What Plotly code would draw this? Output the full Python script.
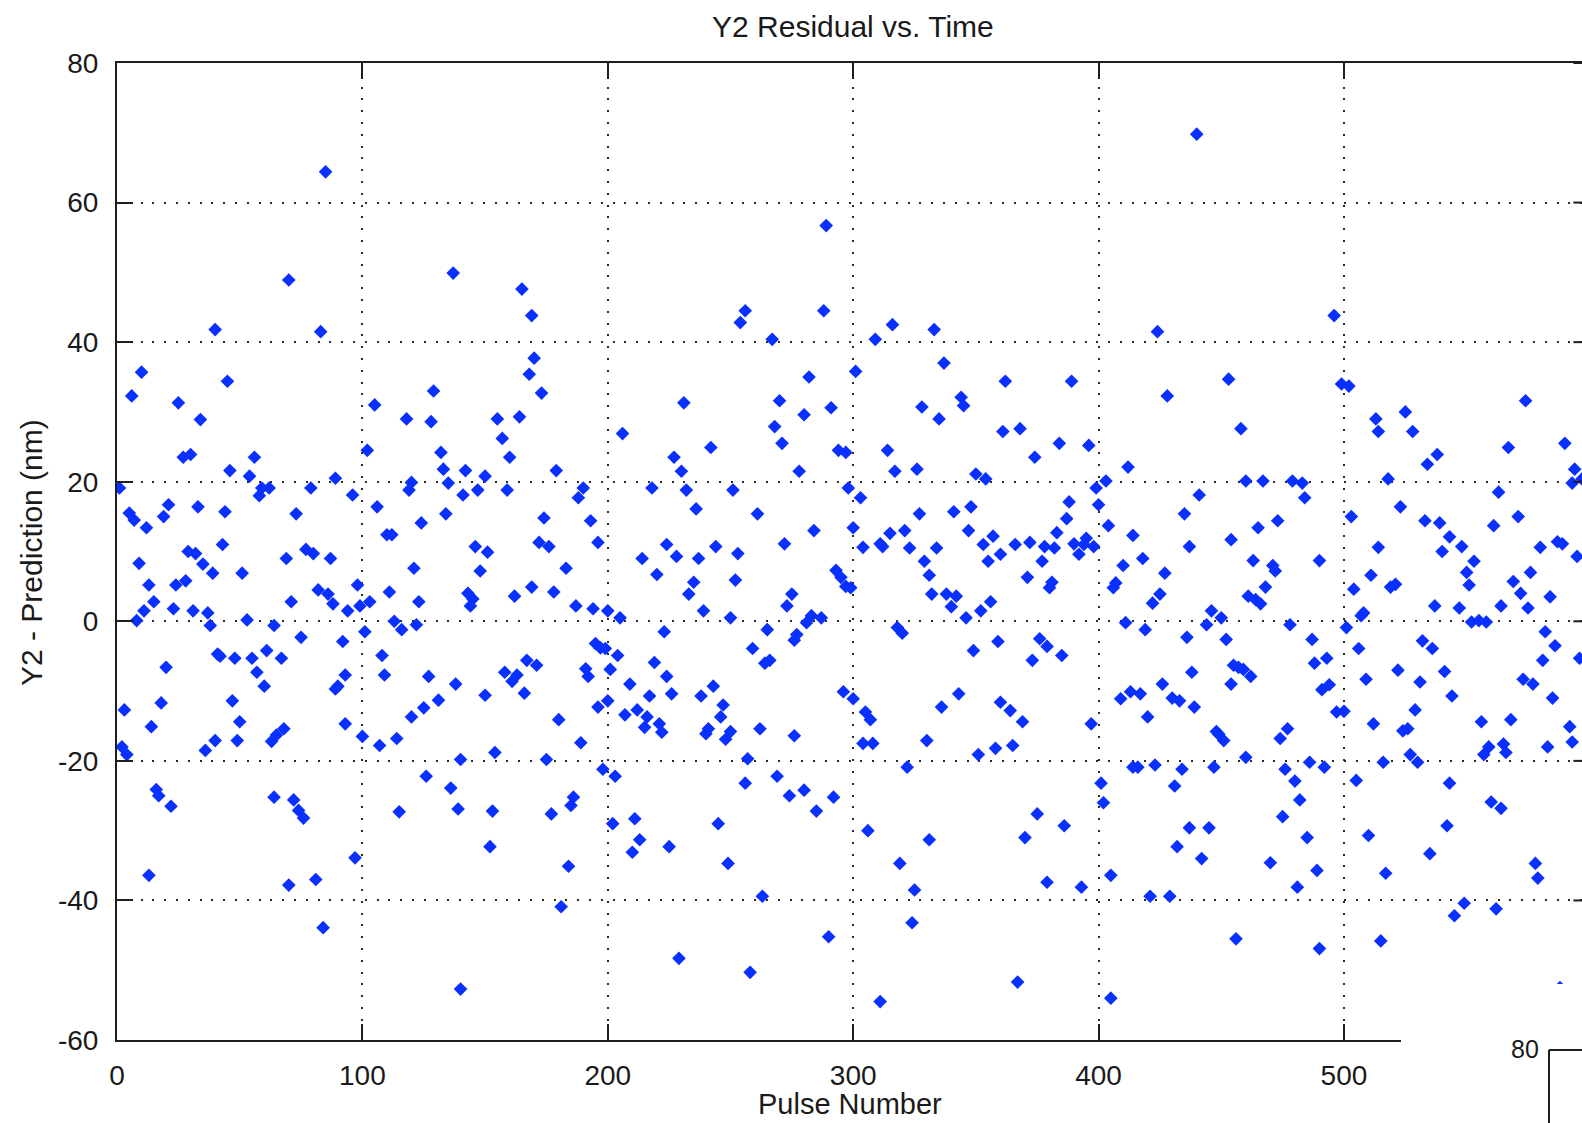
import plotly.graph_objects as go

# ---------------- data ----------------
pulse = [
    85, 70, 40, 83, 10, 6, 45, 25, 34, 27, 30, 56, 46, 54, 89, 1, 59, 62, 58, 79,
    96, 21, 5, 7, 19, 33, 44, 12, 73, 43, 29, 32, 9, 35, 39, 51, 69, 77, 80, 87,
    13, 24, 28, 15, 11, 23, 31, 37, 8, 38, 53, 64, 71, 82, 86, 88, 94, 98, 99, 75,
    92, 20, 41, 42, 48, 55, 61, 67, 57, 60, 93, 90, 89, 3, 18, 47, 14, 50, 68, 65,
    63, 93, 2, 4, 36, 40, 49, 100, 16, 17, 22, 64, 72, 74, 76, 97, 13, 70, 81, 84,
    137, 165, 169, 170, 168, 173, 129, 105, 118, 128, 155, 164, 157, 160, 102, 132, 133, 142, 150, 179,
    120, 119, 135, 141, 147, 159, 190, 188, 106, 124, 134, 174, 193, 110, 112, 146, 172, 176, 196,
    151, 121, 148, 183, 111, 103, 123, 143, 145, 144, 162, 169, 178, 187, 194, 113, 116, 122, 101, 108,
    109, 127, 138, 120, 125, 131, 150, 158, 163, 161, 167, 171, 166, 180, 189, 191, 192, 195, 197, 196,
    107, 114, 140, 154, 175, 198, 126, 136, 115, 139, 153, 177, 186, 185, 152, 184, 181, 140,
    289, 256, 254, 288, 267, 282, 231, 270, 291, 280, 268, 271, 206, 242, 227, 230, 294, 297, 278, 218,
    232, 251, 298, 236, 261, 284, 224, 244, 272,
    214, 228, 237, 253, 220, 235, 233, 252, 275, 273, 293, 295, 297, 200, 205, 239, 250, 223, 265, 283,
    281, 287, 277, 276, 259, 266, 264, 199, 204, 201, 219, 224, 209, 243, 217, 226, 238, 200, 207, 212,
    216, 215, 221, 222, 247, 246, 241, 240, 250, 248, 262, 276, 296, 257, 203, 256, 269, 274, 280, 292,
    285, 202, 211, 213, 210, 225, 245, 249, 263, 290, 229, 258,
    316, 309, 333, 301, 337, 362, 389, 328, 344, 345, 335, 361, 368, 384, 396, 314, 374, 317, 326, 350,
    354, 303, 327, 341, 348, 388, 387, 300, 315, 321, 347, 357, 383, 304, 311, 312, 323, 334, 353, 366,
    372, 378, 382, 390, 395, 394,
    392, 329, 331, 332, 338, 342, 340, 346, 352, 356, 355, 360, 371, 377, 380, 381, 299, 318, 320, 349,
    359, 376, 379, 385, 373, 300, 305, 307, 304, 308, 336, 343, 360, 364, 369, 397, 330, 351, 358, 365,
    322, 375, 386, 306, 331, 370, 319, 325, 379, 393, 324, 367, 311,
    440, 496, 424, 453, 428, 458, 412, 399, 403, 400, 404, 414, 441, 435, 460, 467, 479, 483, 484, 465,
    473, 454, 437, 398,
    418, 410, 427, 407, 406, 425, 422, 463, 471, 472, 468, 461, 464, 466, 490, 446, 450, 411, 419, 436,
    444, 452, 478, 487, 488, 493, 438, 455, 457, 459, 462, 454, 426, 409, 413, 417, 430, 433, 439, 420,
    491, 494, 497, 448, 449, 451, 474, 477, 460, 414, 416, 423, 434, 447, 476, 486, 492, 401, 402, 431,
    480, 482, 475, 437, 445, 432, 485, 442, 470, 489, 405, 481, 421, 429, 456, 490, 405,
    499, 502, 513, 514, 525, 528, 574, 534, 538, 567, 590, 594, 593, 597, 518, 563, 503, 523, 533, 539,
    543, 561, 571, 514, 548, 580, 587, 589,
    540, 553, 550, 551, 595, 511, 504, 519, 521, 537, 547, 564, 569, 572, 576, 575, 584, 508, 507, 501,
    552, 555, 558, 582, 586, 596, 532, 536, 506, 522, 541, 509, 531, 544, 573, 577, 581, 585, 500, 512,
    529, 524, 526, 556, 568, 592, 593, 583, 559, 557, 565, 566, 527, 530, 516, 505, 543, 560, 564, 510,
    542, 535, 517, 578, 579, 549, 545, 562, 515, 588,
]

resid = [
    64.4, 48.9, 41.8, 41.5, 35.7, 32.3, 34.4, 31.3, 28.9, 23.5, 23.9, 23.5, 21.6, 20.8, 20.5, 19.1, 19.1, 19.1, 18.0, 19.1,
    18.1, 16.7, 15.5, 14.5, 15.0, 16.4, 15.7, 13.4, 15.4, 11.0, 10.0, 9.7, 8.3, 8.2, 6.9, 6.9, 9.0, 10.3, 9.7, 9.0,
    5.2, 5.2, 5.8, 2.8, 1.5, 1.8, 1.5, 1.2, 0.1, -0.6, 0.2, -0.6, 2.8, 4.5, 3.9, 2.5, 1.5, 5.2, 2.2, -2.3,
    -2.9, -6.6, -4.7, -5.0, -5.3, -5.3, -4.2, -5.3, -7.3, -9.3, -7.7, -9.3, -9.7, -12.7, -11.7, -11.4, -15.1, -14.4, -15.4, -16.3,
    -17.2, -14.7, -18.0, -19.1, -18.5, -17.1, -17.1, -16.5, -24.1, -25.0, -26.5, -25.2, -25.6, -27.1, -28.2, -33.9, -36.4, -37.8, -37.0, -43.9,
    49.9, 47.6, 43.8, 37.7, 35.4, 32.7, 33.0, 31.0, 29.0, 28.6, 29.0, 29.3, 26.2, 23.5, 24.5, 24.2, 21.8, 21.6, 20.8, 21.6,
    19.9, 18.8, 19.8, 18.1, 18.8, 18.8, 19.1, 17.7, 16.4, 14.1, 15.4, 14.8, 14.4, 12.4, 12.4, 10.7, 11.3, 10.7, 11.3,
    9.9, 7.6, 7.2, 7.6, 4.2, 2.8, 2.8, 4.0, 3.2, 2.2, 3.6, 4.9, 4.2, 2.2, 1.8, 0.0, -1.2, -0.5, -1.5, -4.9,
    -7.7, -7.9, -9.0, -13.7, -12.4, -11.3, -10.6, -7.3, -7.7, -8.6, -5.6, -6.3, -10.3, -14.1, -17.4, -6.8, -7.9, -3.2, -3.8, -12.3,
    -17.8, -16.8, -19.8, -18.8, -19.8, -21.2, -22.2, -23.9, -27.3, -26.9, -27.2, -27.6, -25.2, -26.4, -32.3, -35.1, -40.9, -52.7,
    56.7, 44.5, 42.8, 44.5, 40.4, 35.0, 31.3, 31.6, 30.6, 29.6, 27.9, 25.5, 26.9, 24.9, 23.5, 21.5, 24.5, 24.2, 21.5, 19.1,
    18.8, 18.8, 19.1, 16.1, 15.4, 13.0, 11.0, 10.7, 11.1,
    9.0, 9.3, 9.0, 9.7, 6.7, 5.6, 3.9, 5.9, 3.9, 2.2, 7.3, 6.3, 5.0, 1.5, 0.5, 1.5, 0.5, -1.5, -1.2, 0.8,
    -0.2, 0.5, -1.9, -2.7, -3.9, -5.6, -6.0, -3.9, -4.9, -6.9, -5.9, -7.9, -9.0, -9.3, -10.7, -10.4, -10.7, -11.4, -13.4, -12.7,
    -13.7, -15.2, -14.7, -15.9, -12.0, -13.7, -15.4, -16.1, -15.8, -16.9, -15.4, -16.4, -10.1, -19.7, -22.2, -23.2, -22.2, -25.0, -24.2, -25.2,
    -27.2, -29.0, -28.3, -31.3, -33.1, -32.3, -29.0, -34.7, -39.4, -45.2, -48.3, -50.3,
    42.5, 40.4, 41.8, 35.8, 37.0, 34.4, 34.4, 30.7, 32.1, 30.9, 29.0, 27.2, 27.6, 25.5, 25.2, 24.5, 23.5, 21.5, 21.8, 21.1,
    20.4, 17.7, 15.4, 15.7, 16.4, 17.1, 14.7, 13.4, 12.6, 13.0, 13.0, 12.2, 12.7, 10.6, 11.1, 10.7, 10.5, 10.5, 11.0, 11.0,
    11.3, 10.7, 10.5, 11.1, 11.9, 11.0,
    9.6, 8.6, 6.6, 3.9, 3.9, 3.6, 2.1, 0.5, 1.5, 2.8, 8.6, 9.6, 6.3, 8.6, 4.8, 5.6, 4.8, -0.9, -1.7, -4.2,
    -2.9, -2.5, -3.6, -4.9, -5.6, -11.1, -13.0, -14.1, -17.5, -17.5, -12.3, -10.4, -11.6, -12.8, -14.4, -14.7, -17.1, -19.1, -18.2, -17.8,
    -20.9, -27.6, -29.3, -30.0, -31.3, -31.0, -34.7, -38.5, -37.4, -38.1, -43.2, -51.7, -54.5,
    69.8, 43.8, 41.5, 34.7, 32.3, 27.6, 22.1, 19.1, 20.1, 16.7, 13.7, 12.3, 18.1, 15.4, 20.1, 20.1, 20.1, 19.8, 17.7, 13.4,
    14.4, 11.7, 10.7, 10.7,
    9.0, 8.0, 6.9, 5.5, 4.8, 3.9, 2.6, 8.7, 8.0, 7.2, 4.9, 3.6, 3.1, 2.5, 8.7, 1.5, 0.5, -0.2, -1.2, -2.3,
    -0.5, -2.6, -0.5, -2.6, -6.0, -5.3, -7.3, -6.3, -6.6, -6.9, -7.9, -9.0, -9.0, -11.1, -10.1, -10.4, -11.0, -11.4, -12.3, -13.7,
    -9.8, -9.1, -13.0, -15.8, -16.2, -17.1, -16.8, -15.4, -19.5, -20.9, -20.9, -20.6, -21.2, -20.9, -21.2, -20.2, -20.9, -23.2, -26.0, -23.6,
    -22.9, -25.6, -28.0, -29.6, -29.6, -32.3, -31.0, -34.0, -34.6, -35.7, -36.4, -38.1, -39.4, -39.4, -45.5, -46.9, -54.0,
    34.0, 33.7, 29.0, 27.2, 30.0, 27.2, 31.6, 22.5, 23.9, 24.9, 25.5, 21.8, 19.8, 20.4, 20.4, 18.5, 15.0, 16.4, 14.4, 14.1,
    12.1, 13.7, 15.0, 10.6, 10.7, 10.6, 11.4, 11.1,
    10.0, 8.6, 7.0, 5.2, 9.3, 6.6, 4.6, 4.9, 5.3, 2.2, 1.9, 2.2, 5.7, 4.0, 7.0, 1.9, 3.5, 1.2, 0.8, -0.9,
    -0.1, 0.1, -0.1, -1.5, -3.5, -5.3, -2.8, -3.9, -3.9, -7.0, -7.2, -8.3, -8.7, -10.7, -8.3, -9.0, -5.6, -11.0, -12.9, -14.7,
    -12.7, -15.7, -15.4, -14.4, -14.1, -15.1, -17.3, -18.0, -18.0, -19.1, -17.6, -18.8, -19.1, -20.2, -20.2, -22.8, -23.2, -25.9, -26.8, -30.7,
    -29.3, -33.3, -36.1, -34.7, -36.8, -40.4, -42.2, -41.2, -45.8, -52.5,
]

x_ticks = [0, 100, 200, 300, 400, 500]
y_ticks = [-60, -40, -20, 0, 20, 40, 60, 80]
title_text = "Y2 Residual vs. Time"
x_label = "Pulse Number"
y_label = "Y2 - Prediction (nm)"
inset_tick = "80"

# ---------------- figure ----------------
W, H = 1582, 1123
ML, MR, MT, MB = 117, 0, 63, 83
PW, PH = W - ML - MR, H - MT - MB
AX = "#1e1e1e"
FONT = "Liberation Sans, Arial, Helvetica, sans-serif"


def px_x(px):
    return (px - ML) / PW


def px_y(py):
    return (H - MB - py) / PH


fig = go.Figure()
fig.add_trace(go.Scatter(
    x=pulse, y=resid, mode="markers",
    marker=dict(symbol="diamond", size=10.5, color="#0a30ff", line=dict(width=0)),
    hoverinfo="skip", showlegend=False,
))

axis_common = dict(
    ticks="inside", ticklen=16, tickwidth=2, tickcolor=AX,
    showline=True, linewidth=2, linecolor=AX,
    showgrid=True, gridcolor="#2a2a2a", gridwidth=2, griddash="2px,9.8px",
    zeroline=False, tickfont=dict(family=FONT, size=28, color="#1a1a1a"),
)

fig.update_xaxes(range=[0, 597.0], tickvals=x_ticks, ticktext=[str(v) for v in x_ticks],
                 mirror="ticks", ticklabelstandoff=9, **axis_common)
fig.update_yaxes(range=[-60, 80], tickvals=y_ticks, ticktext=[str(v) for v in y_ticks],
                 mirror=False, ticklabelstandoff=11, **axis_common)

shapes = []
# right-hand tick marks of the (cropped) right border
for v in y_ticks:
    shapes.append(dict(type="line", xref="x", yref="y", x0=593.5, x1=600, y0=v, y1=v,
                       line=dict(color=AX, width=2), layer="above"))
# white panel of the neighbouring axes covering the bottom-right corner
shapes.append(dict(type="rect", xref="paper", yref="paper",
                   x0=px_x(1401), x1=px_x(1600), y0=px_y(1140), y1=px_y(984),
                   fillcolor="white", line=dict(width=0), layer="above"))
# neighbouring axes box (partially visible)
shapes.append(dict(type="line", xref="paper", yref="paper",
                   x0=px_x(1549), x1=px_x(1549), y0=px_y(1050), y1=px_y(1130),
                   line=dict(color=AX, width=2), layer="above"))
shapes.append(dict(type="line", xref="paper", yref="paper",
                   x0=px_x(1549), x1=px_x(1600), y0=px_y(1050), y1=px_y(1050),
                   line=dict(color=AX, width=2), layer="above"))

annotations = [
    dict(text=title_text, xref="paper", yref="paper", x=px_x(853), y=px_y(27),
         xanchor="center", yanchor="middle", showarrow=False,
         font=dict(family=FONT, size=30, color="#1a1a1a")),
    dict(text=x_label, xref="paper", yref="paper", x=px_x(850), y=px_y(1104),
         xanchor="center", yanchor="middle", showarrow=False,
         font=dict(family=FONT, size=29, color="#1a1a1a")),
    dict(text=y_label, xref="paper", yref="paper", x=px_x(31), y=px_y(553),
         xanchor="center", yanchor="middle", showarrow=False, textangle=-90,
         font=dict(family=FONT, size=30, color="#1a1a1a")),
    dict(text=inset_tick, xref="paper", yref="paper", x=px_x(1525), y=px_y(1049),
         xanchor="center", yanchor="middle", showarrow=False,
         font=dict(family=FONT, size=25, color="#1a1a1a")),
]

fig.update_layout(
    width=W, height=H,
    margin=dict(l=ML, r=MR, t=MT, b=MB, pad=0),
    paper_bgcolor="white", plot_bgcolor="white",
    shapes=shapes, annotations=annotations,
    showlegend=False,
)

fig.write_html("out.html")
